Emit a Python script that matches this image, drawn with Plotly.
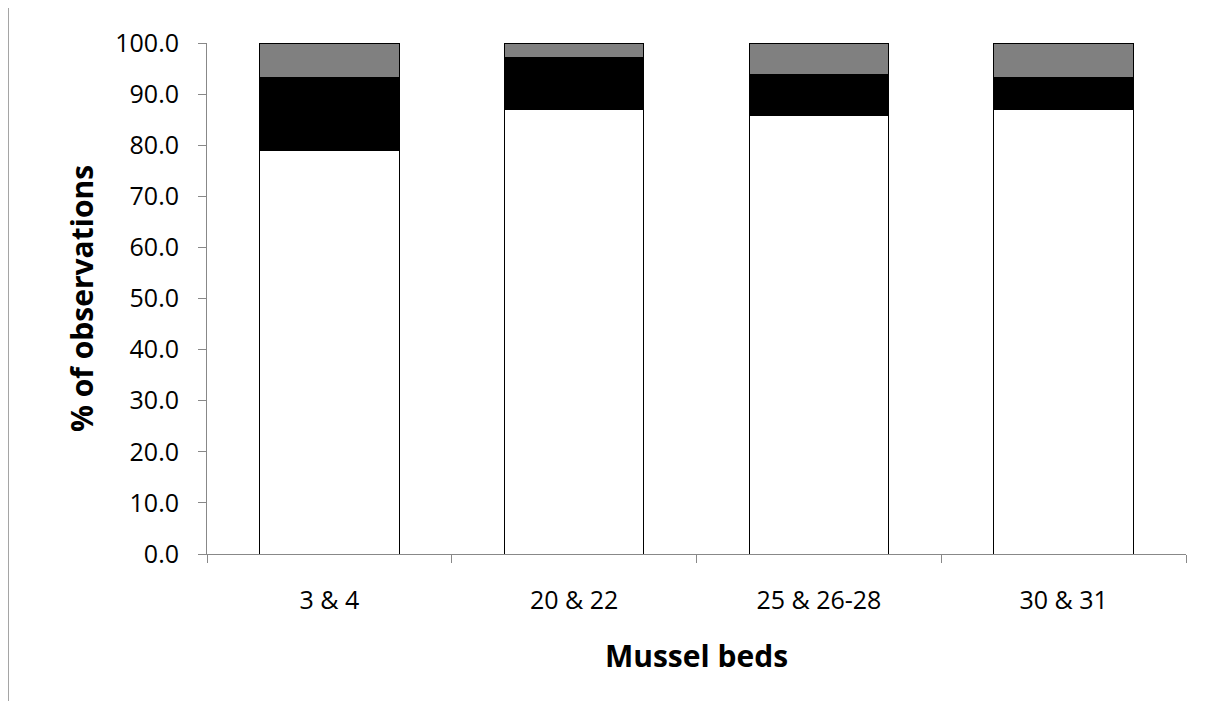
import plotly.graph_objects as go

categories = ["3 & 4", "20 & 22", "25 & 26-28", "30 & 31"]
white_vals = [78.9, 86.9, 85.9, 86.9]
black_vals = [14.4, 10.3, 8.0, 6.4]
gray_vals = [6.7, 2.8, 6.1, 6.7]

fig = go.Figure()
for vals, col in [(white_vals, "white"), (black_vals, "black"), (gray_vals, "#808080")]:
    fig.add_trace(go.Bar(x=categories, y=vals, marker=dict(color=col, line=dict(color="black", width=1)),
                         showlegend=False))

fig.update_layout(
    barmode="stack", bargap=0.43,
    width=1209, height=701,
    margin=dict(l=199, r=31, t=35, b=155),
    plot_bgcolor="white", paper_bgcolor="white",
    font=dict(family="Open Sans, Liberation Sans, sans-serif", size=25, color="black"),
    shapes=[dict(type="line", xref="paper", yref="paper", x0=-0.203, x1=-0.203, y0=-0.3, y1=1.1,
                 line=dict(color="#888888", width=1))],
)
fig.update_xaxes(showline=True, linecolor="#888888", ticks="outside", tickson="boundaries",
                 ticklen=8, tickcolor="#888888", ticklabelstandoff=24,
                 title=dict(text="<b>Mussel beds</b>", standoff=30))
fig.update_yaxes(range=[0, 100], dtick=10, tickformat=".1f", showline=True, linecolor="#888888",
                 ticks="outside", ticklen=8, tickcolor="#888888", showgrid=False, zeroline=False,
                 ticklabelstandoff=14,
                 title=dict(text="<b>% of observations</b>", standoff=12))
fig.write_html("out.html")
